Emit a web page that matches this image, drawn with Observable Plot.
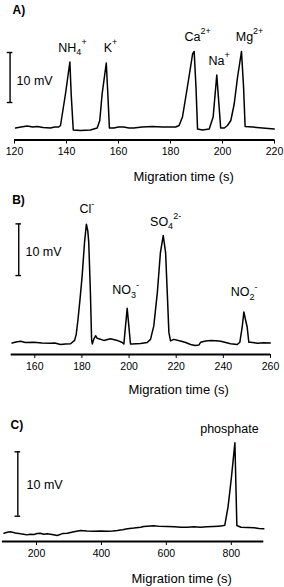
<!DOCTYPE html>
<html><head><meta charset="utf-8">
<script src="https://cdn.jsdelivr.net/npm/d3@7"></script>
<script src="https://cdn.jsdelivr.net/npm/@observablehq/plot@0.6"></script>
<style>
html,body{margin:0;padding:0;background:#fff;}
#chart{width:284px;height:587px;overflow:hidden;}
#chart svg{display:block;overflow:visible;}
</style></head><body><div id="chart"></div>
<script>
// ---------- Panel A: cations ----------
const aTime = [120.4,122.5,124.9,127,128.7,131,133.8,135.5,137,137.7,139.6,141.3,141.8,142.6,145.4,149.2,151.8,152.8,153.7,155.3,155.9,156.5,158.2,160,162,164,165.9,169.1,173.1,176.9,179.5,182,183.3,184.6,186.5,188.5,189.1,189.8,190.4,192.3,194.9,196.4,197.8,198.7,199.3,200.7,201.9,203.2,204.5,205.8,207.3,208.1,208.7,211.5,215.4,219.9];
const aSignal = [-0.1,0.1,0.3,0.1,0.2,0.0,-0.1,0.1,0.1,0.4,6.7,13.1,6.7,-0.5,-0.6,-0.5,-0.1,1.4,6.7,12.9,6.7,-0.1,-0.1,0.1,0.1,-0.1,-0.1,0.1,0.2,0.1,0.1,0.1,0.4,2.1,8.1,14.7,15.2,8.1,-0.3,-0.5,-0.3,2.1,10.5,4.1,-0.1,-0.1,0.4,1.4,4.7,10.1,15.2,8.1,0.2,0.1,-0.1,-0.3];
const aIons = ["NH_4^+","K^+","Ca^2+","Na^+","Mg^2+"];
const aIonTime = [142.3,156.9,190.4,198.7,210.4];
const aIonLevel = [15.1,15.1,17.3,12.5,17.3];
const aTicks = [120,140,160,180,200,220];
const aBar = {t:118.3, lo:5, hi:15, text:9.4};

// ---------- Panel B: anions ----------
const bTime = [150.4,152,154,156,159.6,163,166.7,168.5,170.9,173,175.2,176.9,177.6,178.3,179.2,180.1,181.1,181.9,182.5,182.9,183.6,184.1,184.4,185.0,185.8,186.5,189.3,192.1,195,197.1,197.8,198.5,199.2,199.9,200.6,201.3,204.9,207.7,209.1,210.5,212,213.3,214.5,215.5,216.2,216.9,217.6,219,221.8,224,226.1,228,229.6,230.4,232.5,234.7,236.8,238.9,241,243.1,245.9,247,248,248.7,249.4,250.1,250.8,251.6,254.5,257,259.9];
const bSignal = [0.1,0.3,0.45,0.2,0.25,0.1,0.05,0.1,-0.2,-0.1,-0.05,0.6,1.8,4.5,8.6,13.1,19.5,23.1,21.8,19.5,9.9,0.8,-0.1,0.8,1.5,1.0,0.6,0.9,0.6,0.2,-0.1,3.4,6.8,3.4,-0.1,-0.1,0.0,0.2,0.8,3.4,9.9,17.6,20.9,17.6,9.9,2.1,0.5,0.8,0.5,0.2,-0.2,-0.4,-0.3,0.25,0.5,0.6,0.55,0.45,0.2,-0.05,-0.2,0.25,3.2,6.1,4.6,3.2,0.25,0.25,0.05,0.15,0.1];
const bIons = ["Cl^-","NO_3^-","SO_4^2-","NO_2^-"];
const bIonTime = [182.1,198.5,215.5,248.8];
const bIonLevel = [25.2,9.5,22.8,9.1];
const bTicks = [160,180,200,220,240,260];
const bBar = {t:153.2, lo:13.15, hi:23.15, text:17.8};

// ---------- Panel C: phosphate ----------
const cTime = [100,110,120,135,151,160,171,180,192,202,212,222,233,248,264,280,295,315,336,355,377,398,418,435,449,465,480,500,521,530,541,560,580,603,625,645,664,685,705,725,745,760,772,780,790,800,811,817,822,830,850,870,885,900];
const cSignal = [0.36,0.5,0.57,0.4,0.26,0.2,0.1,0.2,0.16,0.3,0.36,0.2,0.26,0.15,0.0,0.3,0.36,0.6,0.78,0.7,0.67,0.72,0.67,0.7,0.78,0.9,1.04,1.15,1.29,1.4,1.45,1.5,1.42,1.4,1.35,1.3,1.29,1.35,1.29,1.35,1.4,1.45,1.5,1.6,4.5,8.9,14.4,1.55,1.45,1.29,1.25,1.19,1.1,1.04];
const cIons = ["phosphate"];
const cIonTime = [794];
const cIonLevel = [16.0];
const cTicks = [200,400,600,800];
const cBar = {t:142.5, lo:3, hi:13, text:7.9};

const FONT = "'Liberation Sans', Arial, Helvetica, sans-serif";
const W = 284;

function richText(svg) {
  d3.select(svg).selectAll("text").each(function () {
    const s = this.textContent;
    if (!/[_^]/.test(s) || this.childElementCount) return;
    const parts = s.match(/(_[^_^]+|\^[^_^]+|[^_^]+)/g);
    this.textContent = "";
    let cur = 0;
    for (const p of parts) {
      const ts = document.createElementNS("http://www.w3.org/2000/svg", "tspan");
      let target = 0, size = null;
      if (p[0] === "_") { target = 3.3; size = 9; ts.textContent = p.slice(1); }
      else if (p[0] === "^") { target = -6.8; size = 9; ts.textContent = p.slice(1); }
      else { ts.textContent = p; }
      if (target !== cur) ts.setAttribute("dy", target - cur);
      cur = target;
      if (size) ts.setAttribute("font-size", size);
      this.appendChild(ts);
    }
  });
}

function panel(o) {
  const trace = o.time.map((t, i) => ({t, v: o.signal[i]}));
  const labels = o.ions.map((s, i) => ({s, t: o.ionTime[i], v: o.ionLevel[i]}));
  const plotW = W - o.ml - o.mr;
  const cap = 2.8 * (o.dx[1] - o.dx[0]) / plotW;
  const caps = [o.bar.lo, o.bar.hi].map(v => ({v, t1: o.bar.t - cap, t2: o.bar.t + cap}));
  const svg = Plot.plot({
    width: W, height: o.height,
    marginTop: 0, marginLeft: o.ml, marginRight: o.mr, marginBottom: o.mb,
    style: {fontFamily: FONT, fontSize: "10.5px", color: "#000", background: "#fff", overflow: "visible"},
    x: {domain: o.dx, ticks: o.ticks, tickSize: 4, tickPadding: 4, label: null, tickFormat: d => String(d)},
    y: {domain: o.dy, axis: null},
    marks: [
      Plot.ruleY([o.dy[0]], {stroke: "#000", strokeWidth: 1.8}),
      Plot.line(trace, {x: "t", y: "v", stroke: "#000", strokeWidth: 1.5, strokeLinejoin: "round"}),
      Plot.ruleX([o.bar], {x: "t", y1: "lo", y2: "hi", stroke: "#000", strokeWidth: 1.4}),
      Plot.ruleY(caps, {y: "v", x1: "t1", x2: "t2", stroke: "#000", strokeWidth: 1.4}),
      Plot.text([o.bar], {x: "t", y: "text", text: () => "10 mV", textAnchor: "start", dx: o.barDx, fontSize: 12.5, fill: "#000"}),
      Plot.text(labels, {x: "t", y: "v", text: "s", lineAnchor: "bottom", fontSize: 12.5, fill: "#000"}),
      Plot.text([o.letter], {frameAnchor: "top-left", dx: o.letterX - o.ml, dy: o.letterY, lineAnchor: "bottom", textAnchor: "start", fontSize: 12, fontWeight: "bold", fill: "#000"}),
      Plot.text(["Migration time (s)"], {frameAnchor: "bottom-left", dx: o.titleX - o.ml, dy: o.titleY - (o.height - o.mb), lineAnchor: "middle", fontSize: 13, fill: "#000"})
    ]
  });
  richText(svg);
  return svg;
}

const root = document.getElementById("chart");
root.appendChild(panel({
  height: 188, ml: 14, mr: 10, mb: 48.5, dx: [120, 220], dy: [-2.5, 25.4],
  ticks: aTicks, time: aTime, signal: aSignal, ions: aIons, ionTime: aIonTime, ionLevel: aIonLevel,
  bar: aBar, barDx: 6.5, letter: "A)", letterX: 12, letterY: 13, titleX: 133, titleY: 176
}));
root.appendChild(panel({
  height: 217, ml: 10.7, mr: 14, mb: 51, dx: [150, 260], dy: [-2.13, 30],
  ticks: bTicks, time: bTime, signal: bSignal, ions: bIons, ionTime: bIonTime, ionLevel: bIonLevel,
  bar: bBar, barDx: 6.7, letter: "B)", letterX: 11.7, letterY: 15, titleX: 128, titleY: 201
}));
root.appendChild(panel({
  height: 182, ml: 1.9, mr: 20.7, mb: 46, dx: [95, 900], dy: [-0.93, 20.2],
  ticks: cTicks, time: cTime, signal: cSignal, ions: cIons, ionTime: cIonTime, ionLevel: cIonLevel,
  bar: cBar, barDx: 8.7, letter: "C)", letterX: 10, letterY: 23.3, titleX: 131, titleY: 173
}));
</script></body></html>
